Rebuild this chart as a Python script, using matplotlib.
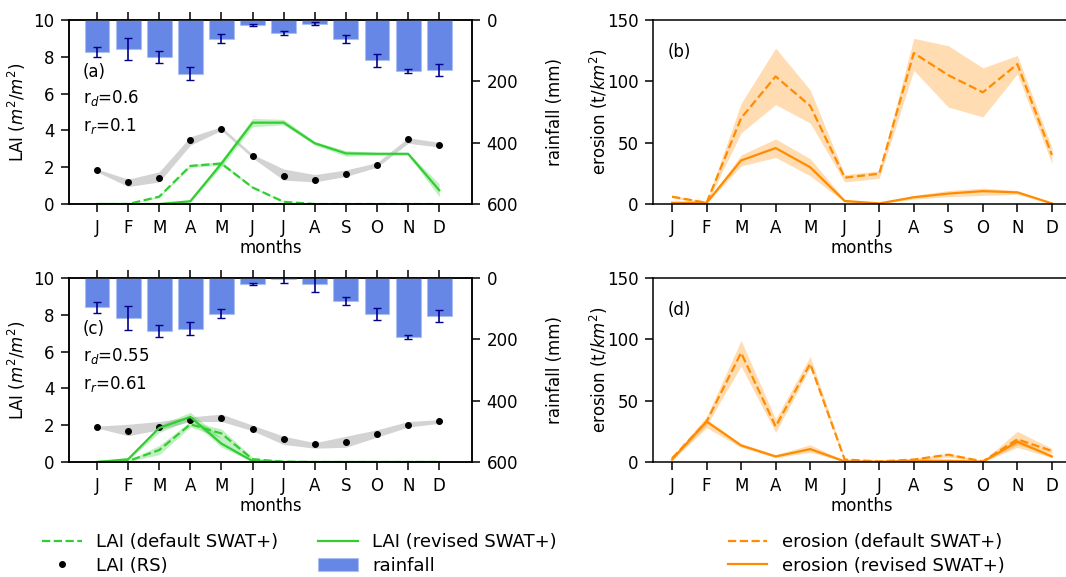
import numpy as np
import matplotlib.pyplot as plt

plt.rcParams['font.size'] = 12
plt.rcParams['xtick.major.size'] = 5.5
plt.rcParams['ytick.major.size'] = 5.5
plt.rcParams['xtick.major.pad'] = 5
plt.rcParams['ytick.major.pad'] = 5
plt.rcParams['axes.linewidth'] = 1.1
plt.rcParams['xtick.major.width'] = 1.1
plt.rcParams['ytick.major.width'] = 1.1

months = ['J', 'F', 'M', 'A', 'M', 'J', 'J', 'A', 'S', 'O', 'N', 'D']

# site 1 (panels a, b)
rain_1 = [105, 95, 120, 175, 61, 16, 42, 12, 63, 132, 167, 163]
rain_err_1 = [16, 37, 20, 22, 15, 3, 6, 4, 13, 21, 6, 20]
lai_rs_1 = [1.83, 1.2, 1.41, 3.46, 4.09, 2.61, 1.5, 1.3, 1.63, 2.1, 3.53, 3.22]
lai_rs_lo_1 = [1.75, 0.95, 1.2, 3.2, 4.0, 2.5, 1.3, 1.2, 1.5, 2.0, 3.3, 3.1]
lai_rs_hi_1 = [1.9, 1.35, 1.75, 3.65, 4.2, 2.7, 1.9, 1.6, 1.85, 2.25, 3.6, 3.35]
lai_def_1 = [0, 0, 0.4, 2.07, 2.2, 0.9, 0.12, 0, 0, 0, 0, 0]
lai_def_lo_1 = [0, 0, 0.35, 2.0, 2.1, 0.85, 0.1, 0, 0, 0, 0, 0]
lai_def_hi_1 = [0, 0, 0.45, 2.15, 2.3, 0.95, 0.15, 0, 0, 0, 0, 0]
lai_rev_1 = [0, 0, 0, 0.15, 2.2, 4.42, 4.42, 3.3, 2.75, 2.73, 2.73, 0.75]
lai_rev_lo_1 = [0, 0, 0, 0.1, 2.0, 4.2, 4.3, 3.2, 2.6, 2.65, 2.65, 0.4]
lai_rev_hi_1 = [0, 0, 0, 0.2, 2.4, 4.65, 4.6, 3.4, 2.9, 2.8, 2.8, 1.1]
ero_def_1 = [6, 1, 70, 104, 80, 21.5, 24.7, 123, 105, 91, 114, 40]
ero_def_lo_1 = [5, 0, 58, 81, 66, 18, 21, 109, 79, 71, 106, 33]
ero_def_hi_1 = [7, 2, 82, 127, 93, 24, 27, 135, 129, 111, 121, 46]
ero_rev_1 = [1, 1, 35.5, 45.6, 30, 2.5, 0.5, 5.5, 8.5, 10.5, 9.5, 0.5]
ero_rev_lo_1 = [0.5, 0.5, 31, 38, 23, 1.5, 0.2, 4, 6, 7, 8, 0.2]
ero_rev_hi_1 = [1.5, 1.5, 40, 53, 37, 3.5, 1, 7, 11, 13, 11, 1]

# site 2 (panels c, d)
rain_2 = [95, 131, 173, 165, 117, 20, 4, 20, 74, 117, 192, 123]
rain_err_2 = [18, 38, 20, 22, 15, 2, 12, 25, 13, 20, 6, 20]
lai_rs_2 = [1.92, 1.7, 1.88, 2.3, 2.37, 1.81, 1.25, 1.0, 1.09, 1.52, 2.03, 2.21]
lai_rs_lo_2 = [1.85, 1.43, 1.75, 2.2, 2.2, 1.7, 0.95, 0.75, 0.8, 1.35, 1.9, 2.1]
lai_rs_hi_2 = [1.95, 2.05, 2.2, 2.45, 2.6, 2.0, 1.4, 1.05, 1.4, 1.75, 2.2, 2.3]
lai_def_2 = [0, 0.05, 0.65, 2.05, 1.55, 0.15, 0.02, 0, 0, 0, 0, 0]
lai_def_lo_2 = [0, 0.02, 0.4, 1.9, 1.3, 0.1, 0, 0, 0, 0, 0, 0]
lai_def_hi_2 = [0, 0.08, 0.9, 2.2, 1.8, 0.25, 0.04, 0, 0, 0, 0, 0]
lai_rev_2 = [0, 0.15, 1.85, 2.45, 1.0, 0.05, 0, 0, 0, 0, 0, 0]
lai_rev_lo_2 = [0, 0.1, 1.6, 2.3, 0.8, 0.02, 0, 0, 0, 0, 0, 0]
lai_rev_hi_2 = [0, 0.2, 2.0, 2.7, 1.3, 0.1, 0, 0, 0, 0, 0, 0]
ero_def_2 = [3, 33, 89, 29, 80, 2, 0.5, 2, 6, 0.5, 18.5, 9]
ero_def_lo_2 = [2, 30, 78, 24, 77, 1, 0.2, 1, 4, 0.2, 14, 7]
ero_def_hi_2 = [4, 37, 99, 35, 86, 3, 1, 3, 7, 1, 25, 11]
ero_rev_2 = [2, 33, 13.5, 4.5, 10.5, 0.5, 0.2, 1, 1, 0.2, 16.5, 4.5]
ero_rev_lo_2 = [1, 28, 12, 3.5, 8, 0.2, 0, 0.5, 0.5, 0, 12, 3.5]
ero_rev_hi_2 = [3, 35, 15, 6, 14, 1, 0.5, 1.5, 1.5, 0.5, 19, 6]

x = np.arange(12)
green = '#32cd32'
orange = '#ff8c00'

fig = plt.figure(figsize=(10.66, 5.77), dpi=100)


def lai_panel(pos, rain, rain_err, rs, rs_lo, rs_hi, d, d_lo, d_hi, r, r_lo, r_hi, tag, rd, rr):
    ax = fig.add_axes(pos)
    ax.fill_between(x, rs_lo, rs_hi, color='lightgray', lw=0)
    ax.plot(x, rs, 'o', color='black', ms=4, label='LAI (RS)')
    ax.fill_between(x, d_lo, d_hi, color=green, alpha=0.3, lw=0)
    ax.plot(x, d, '--', color=green, lw=1.6, label='LAI (default SWAT+)')
    ax.fill_between(x, r_lo, r_hi, color=green, alpha=0.3, lw=0)
    ax.plot(x, r, '-', color=green, lw=1.6, label='LAI (revised SWAT+)')
    ax.set_ylim(0, 10)
    ax.set_xlim(-0.9, 12.05)
    ax.set_xticks(x)
    ax.set_xticklabels(months)
    ax.tick_params(axis='x', top=True)
    ax.set_xlabel('months', labelpad=2)
    ax.set_ylabel('LAI ($m^2/m^2$)')
    ax.text(0.035, 0.72, tag, transform=ax.transAxes, va='center')
    ax.text(0.035, 0.576, 'r$_d$=' + rd, transform=ax.transAxes, va='center')
    ax.text(0.035, 0.424, 'r$_r$=' + rr, transform=ax.transAxes, va='center')
    ax2 = ax.twinx()
    ax2.bar(x, rain, width=0.8, color='royalblue', alpha=0.8, yerr=rain_err,
            edgecolor='#aabdf0', linewidth=0.8,
            ecolor='darkblue', capsize=3, error_kw={'elinewidth': 1.2}, label='rainfall')
    ax2.set_ylim(600, 0)
    ax2.set_yticks([0, 200, 400, 600])
    ax2.set_ylabel('rainfall (mm)', labelpad=20)
    return ax, ax2


def ero_panel(pos, d, d_lo, d_hi, r, r_lo, r_hi, tag):
    ax = fig.add_axes(pos)
    ax.fill_between(x, d_lo, d_hi, color=orange, alpha=0.3, lw=0)
    ax.plot(x, d, '--', color=orange, lw=1.6, label='erosion (default SWAT+)')
    ax.fill_between(x, r_lo, r_hi, color=orange, alpha=0.3, lw=0)
    ax.plot(x, r, '-', color=orange, lw=1.6, label='erosion (revised SWAT+)')
    ax.set_ylim(0, 150)
    ax.set_yticks([0, 50, 100, 150])
    ax.set_xlim(-0.55, 11.55)
    ax.set_xticks(x)
    ax.set_xticklabels(months)
    ax.set_xlabel('months', labelpad=2)
    ax.set_ylabel('erosion (t/$km^2$)', labelpad=-2)
    ax.text(0.034, 0.826, tag, transform=ax.transAxes, va='center')
    return ax


axa, axa2 = lai_panel([0.0647, 0.6464, 0.378, 0.319], rain_1, rain_err_1,
                      lai_rs_1, lai_rs_lo_1, lai_rs_hi_1,
                      lai_def_1, lai_def_lo_1, lai_def_hi_1,
                      lai_rev_1, lai_rev_lo_1, lai_rev_hi_1, '(a)', '0.6', '0.1')
axc, axc2 = lai_panel([0.0647, 0.1993, 0.378, 0.319], rain_2, rain_err_2,
                      lai_rs_2, lai_rs_lo_2, lai_rs_hi_2,
                      lai_def_2, lai_def_lo_2, lai_def_hi_2,
                      lai_rev_2, lai_rev_lo_2, lai_rev_hi_2, '(c)', '0.55', '0.61')
axb = ero_panel([0.6126, 0.6464, 0.392, 0.319], ero_def_1, ero_def_lo_1, ero_def_hi_1,
                ero_rev_1, ero_rev_lo_1, ero_rev_hi_1, '(b)')
axd = ero_panel([0.6126, 0.1993, 0.392, 0.319], ero_def_2, ero_def_lo_2, ero_def_hi_2,
                ero_rev_2, ero_rev_lo_2, ero_rev_hi_2, '(d)')

h1, l1 = axa.get_legend_handles_labels()
h2, l2 = axa2.get_legend_handles_labels()
hd = dict(zip(l1 + l2, h1 + h2))
order = ['LAI (default SWAT+)', 'LAI (RS)', 'LAI (revised SWAT+)', 'rainfall']
fig.legend([hd[k] for k in order], order, loc='center', bbox_to_anchor=(0.281, 0.04),
           ncol=2, frameon=False, fontsize=13, labelspacing=0.3, columnspacing=2.2,
           handlelength=2.2)
hb, lb = axb.get_legend_handles_labels()
fig.legend(hb, lb, loc='center', bbox_to_anchor=(0.8125, 0.04), ncol=1,
           frameon=False, fontsize=13, labelspacing=0.3, handlelength=2.2)

fig.savefig('out.png', dpi=100)
